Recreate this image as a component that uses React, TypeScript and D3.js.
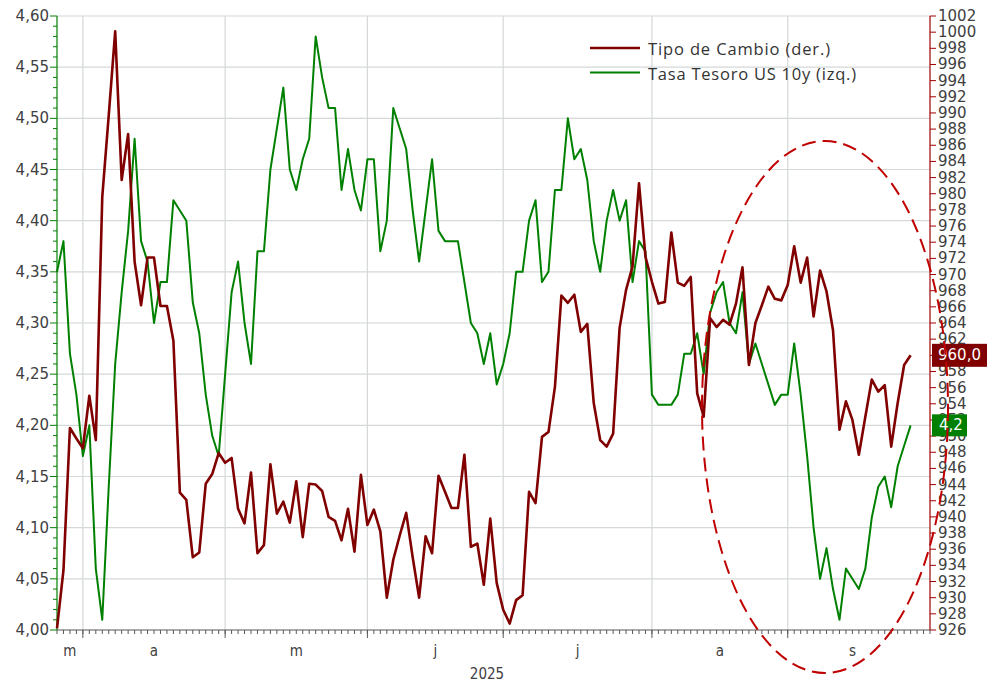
import React from 'react';
import * as d3 from 'd3';

// ---------- data ----------
const monthLabels = ['m', 'a', 'm', 'j', 'j', 'a', 's'];
const monthCounts = [4, 22, 22, 21, 23, 21, 20];
const yearLabel = '2025';

const tipoCambio = [
  926.2, 933.4, 951.0, 949.7, 948.5, 955.0, 949.5, 979.6, 989.7, 1000.1,
  981.7, 987.4, 971.6, 966.2, 972.1, 972.1, 966.1, 966.1, 961.8, 943.0,
  942.1, 935.0, 935.6, 944.1, 945.3, 947.9, 946.7, 947.3, 941.0, 939.2,
  945.5, 935.5, 936.5, 946.5, 940.4, 941.9, 939.3, 944.4, 937.5, 944.1,
  944.0, 943.2, 940.0, 939.5, 937.1, 941.0, 935.7, 945.2, 939.0, 940.9,
  938.2, 930.0, 934.7, 937.7, 940.5, 935.0, 930.0, 937.6, 935.5, 945.1,
  943.1, 941.1, 941.1, 947.7, 936.3, 936.7, 931.6, 939.8, 931.8, 928.5,
  926.8, 929.7, 930.3, 943.1, 941.7, 949.9, 950.5, 956.1, 967.4, 966.5,
  967.5, 962.9, 963.9, 954.1, 949.5, 948.7, 950.3, 963.4, 968.1, 971.0,
  981.3, 972.2, 969.1, 966.4, 966.6, 975.2, 969.0, 968.6, 969.7, 955.3,
  952.4, 964.6, 963.5, 964.4, 963.8, 966.4, 970.9, 958.8, 964.0, 966.2,
  968.5, 967.0, 966.8, 968.7, 973.5, 969.0, 972.1, 964.8, 970.5, 967.9,
  963.1, 950.8, 954.3, 952.0, 947.7, 952.4, 957.0, 955.5, 956.3, 948.7,
  954.1, 958.8, 960.0,
];

const tasaTesoro = [
  4.35, 4.38, 4.27, 4.23, 4.17, 4.20, 4.06, 4.01, 4.14, 4.26,
  4.33, 4.39, 4.48, 4.38, 4.36, 4.30, 4.34, 4.34, 4.42, 4.41,
  4.40, 4.32, 4.29, 4.23, 4.19, 4.17, 4.25, 4.33, 4.36, 4.30,
  4.26, 4.37, 4.37, 4.45, 4.49, 4.53, 4.45, 4.43, 4.46, 4.48,
  4.58, 4.54, 4.51, 4.51, 4.43, 4.47, 4.43, 4.41, 4.46, 4.46,
  4.37, 4.40, 4.51, 4.49, 4.47, 4.41, 4.36, 4.41, 4.46, 4.39,
  4.38, 4.38, 4.38, 4.34, 4.30, 4.29, 4.26, 4.29, 4.24, 4.26,
  4.29, 4.35, 4.35, 4.40, 4.42, 4.34, 4.35, 4.43, 4.43, 4.50,
  4.46, 4.47, 4.44, 4.38, 4.35, 4.40, 4.43, 4.40, 4.42, 4.34,
  4.38, 4.37, 4.23, 4.22, 4.22, 4.22, 4.23, 4.27, 4.27, 4.29,
  4.25, 4.31, 4.33, 4.34, 4.30, 4.29, 4.33, 4.26, 4.28, 4.26,
  4.24, 4.22, 4.23, 4.23, 4.28, 4.23, 4.17, 4.10, 4.05, 4.08,
  4.04, 4.01, 4.06, 4.05, 4.04, 4.06, 4.11, 4.14, 4.15, 4.12,
  4.16, 4.18, 4.20,
];

const leftTickValues = [4.0, 4.05, 4.1, 4.15, 4.2, 4.25, 4.3, 4.35, 4.4, 4.45, 4.5, 4.55, 4.6];
const rightTickValues = d3.range(926, 1003, 2);
const legendLabels = ['Tipo de Cambio (der.)', 'Tasa Tesoro US 10y (izq.)'];
const lastRedLabel = '960,0';
const lastGreenLabel = '4,2';

// ---------- layout ----------
const W = 993;
const H = 684;
const PL = 57;
const PR = 930;
const PT = 16;
const PB = 630;

const RED = '#800000';
const GREEN = '#008000';
const AXIS_RED = '#A00000';
const GRID = '#D4D8D8';
const TXT = '#404040';

export default function App() {
  const x = d3.scaleLinear().domain([0, 135]).range([PL, PR]);
  const yL = d3.scaleLinear().domain([4.0, 4.6]).range([PB, PT]);
  const yR = d3.scaleLinear().domain([926, 1002]).range([PB, PT]);

  const redLine = d3
    .line<number>()
    .x((_, i) => x(i))
    .y((d) => yR(d))(tipoCambio) as string;
  const greenLine = d3
    .line<number>()
    .x((_, i) => x(i))
    .y((d) => yL(d))(tasaTesoro) as string;

  // month groups
  const starts: number[] = [];
  let acc = 0;
  monthCounts.forEach((c) => {
    starts.push(acc);
    acc += c;
  });
  const total = acc;

  const minorLeft = d3.range(0, 61).map((k) => 4.0 + k * 0.01);
  const catTicks = d3.range(0, 136);

  const fmt2 = (v: number) => v.toFixed(2).replace('.', ',');

  const lastRed = tipoCambio[tipoCambio.length - 1];
  const lastGreen = tasaTesoro[tasaTesoro.length - 1];

  const tickFont = "'DejaVu Sans', Verdana, sans-serif";
  const catFont = "'DejaVu Sans Condensed', 'DejaVu Sans', sans-serif";
  const legFont = "'Open Sans', Lato, sans-serif";

  return (
    <svg
      width={W}
      height={H}
      style={{ position: 'absolute', left: 0, top: 0, background: '#fff' }}
      xmlns="http://www.w3.org/2000/svg"
    >
      <rect x={0} y={0} width={W} height={H} fill="#fff" />
      {/* horizontal gridlines */}
      {leftTickValues.slice(1).map((v) => (
        <line key={'hg' + v} x1={PL} x2={PR} y1={yL(v)} y2={yL(v)} stroke={GRID} strokeWidth={1.2} />
      ))}
      {/* vertical gridlines at month starts */}
      {starts.slice(1).map((s) => (
        <line key={'vg' + s} x1={x(s)} x2={x(s)} y1={PT} y2={PB} stroke={GRID} strokeWidth={1.2} />
      ))}

      {/* bottom axis */}
      <line x1={PL} x2={PR} y1={PB} y2={PB} stroke="#595959" strokeWidth={1.2} />
      {catTicks.map((i) => (
        <line key={'ct' + i} x1={x(i)} x2={x(i)} y1={PB} y2={PB + 4} stroke="#595959" strokeWidth={1} />
      ))}
      {starts.slice(1).map((s) => (
        <line key={'mt' + s} x1={x(s)} x2={x(s)} y1={PB} y2={PB + 8} stroke="#595959" strokeWidth={1} />
      ))}

      {/* left axis */}
      <line x1={PL} x2={PL} y1={PT} y2={PB} stroke={GREEN} strokeWidth={1.2} />
      {minorLeft.map((v, k) => (
        <line
          key={'ml' + k}
          x1={PL - (k % 5 === 0 ? 7 : 4)}
          x2={PL}
          y1={yL(v)}
          y2={yL(v)}
          stroke={GREEN}
          strokeWidth={1}
        />
      ))}
      {leftTickValues.map((v) => (
        <text
          key={'lt' + v}
          x={PL - 8}
          y={yL(v)}
          textAnchor="end"
          dominantBaseline="central"
          fontFamily={tickFont}
          fontSize={15}
          fill={TXT}
        >
          {fmt2(v)}
        </text>
      ))}

      {/* right axis */}
      <line x1={PR} x2={PR} y1={PT} y2={PB} stroke={AXIS_RED} strokeWidth={1.2} />
      {rightTickValues.map((v) => (
        <line key={'rt' + v} x1={PR} x2={PR + 6} y1={yR(v)} y2={yR(v)} stroke={AXIS_RED} strokeWidth={1} />
      ))}
      {rightTickValues.map((v) => (
        <text
          key={'rl' + v}
          x={PR + 8}
          y={yR(v)}
          dominantBaseline="central"
          fontFamily={tickFont}
          fontSize={15}
          fill={TXT}
        >
          {v}
        </text>
      ))}

      {/* series */}
      <path d={greenLine} fill="none" stroke={GREEN} strokeWidth={2} strokeLinejoin="round" />
      <path d={redLine} fill="none" stroke={RED} strokeWidth={2.6} strokeLinejoin="round" />

      {/* category labels */}
      {monthLabels.map((m, k) => {
        const a = starts[k];
        const b = k < monthLabels.length - 1 ? starts[k + 1] : total;
        return (
          <text
            key={'m' + k}
            x={(x(a) + x(b)) / 2}
            y={656}
            textAnchor="middle"
            fontFamily={catFont}
            fontSize={15}
            fill={TXT}
          >
            {m}
          </text>
        );
      })}
      <text
        x={(x(0) + x(total)) / 2}
        y={679}
        textAnchor="middle"
        fontFamily={catFont}
        fontSize={15}
        fill={TXT}
      >
        {yearLabel}
      </text>

      {/* end labels */}
      <rect x={PR + 2} y={yR(lastRed) - 11.5} width={55} height={23} fill={RED} />
      <text
        x={PR + 29.5}
        y={yR(lastRed)}
        textAnchor="middle"
        dominantBaseline="central"
        fontFamily={tickFont}
        fontSize={15}
        fill="#fff"
      >
        {lastRedLabel}
      </text>
      <rect x={PR + 2} y={yL(lastGreen) - 11} width={35} height={22} fill={GREEN} />
      <text
        x={PR + 21}
        y={yL(lastGreen)}
        textAnchor="middle"
        dominantBaseline="central"
        fontFamily={tickFont}
        fontSize={15}
        fill="#fff"
      >
        {lastGreenLabel}
      </text>

      {/* legend */}
      <line x1={590} x2={640} y1={48} y2={48} stroke={RED} strokeWidth={2.4} />
      <line x1={590} x2={640} y1={72.5} y2={72.5} stroke={GREEN} strokeWidth={2.2} />
      <text x={648} y={55} fontFamily={legFont} fontSize={16.5} fill="#333" textLength={182} lengthAdjust="spacing">
        {legendLabels[0]}
      </text>
      <text x={648} y={80} fontFamily={legFont} fontSize={16.5} fill="#333" textLength={208} lengthAdjust="spacing">
        {legendLabels[1]}
      </text>

      {/* highlight ellipse */}
      <ellipse
        cx={825}
        cy={407}
        rx={123}
        ry={266}
        fill="none"
        stroke="#C00000"
        strokeWidth={2}
        strokeDasharray="14 7"
      />
    </svg>
  );
}
